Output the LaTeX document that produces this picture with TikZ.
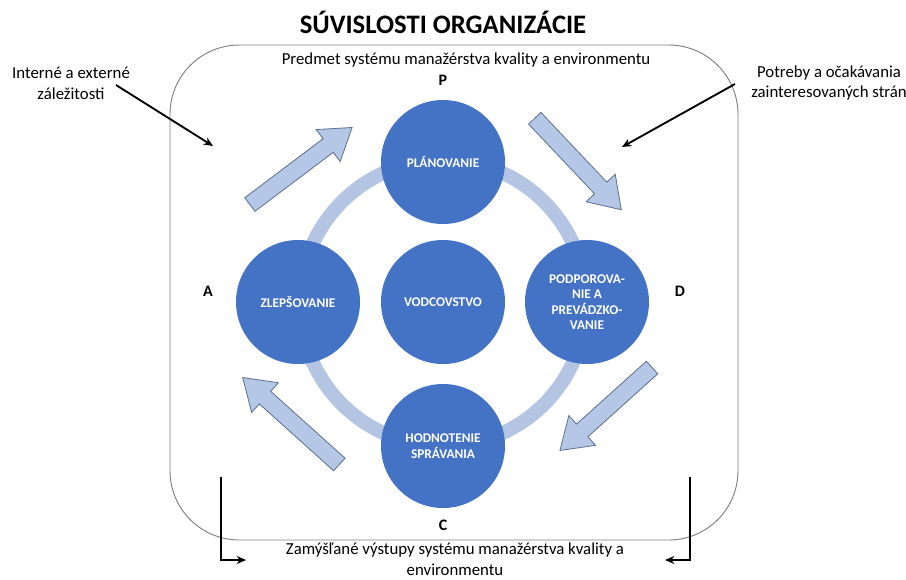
\documentclass[tikz,border=0pt]{standalone}
\usepackage{fontspec}
\setmainfont{Carlito}
\usetikzlibrary{arrows.meta}

\definecolor{phaseblue}{HTML}{4472C4}
\definecolor{ringblue}{HTML}{B4C5E4}
\definecolor{flowfill}{HTML}{B4C7E7}
\definecolor{flowedge}{HTML}{5E6E8C}
\definecolor{framegray}{HTML}{7F7F7F}

\tikzset{
  phase/.style={circle, fill=phaseblue, minimum size=93pt, inner sep=0pt,
    text=white, align=center, font=\fontsize{10}{11.5}\selectfont\bfseries},
  note/.style={align=center, font=\fontsize{12.6}{15.5}\selectfont},
  letter/.style={font=\fontsize{12}{13}\selectfont\bfseries},
  pointer/.style={-{Stealth[length=7pt,width=6pt]}, line width=1.4pt},
  flow/.style={fill=flowfill, draw=flowedge, line width=0.6pt, line join=miter}
}

% block arrow: centre, angle, half length
\newcommand{\flowarrow}[3]{
  \draw[flow, shift={(#1)}, rotate=#2]
    (-#3,-8.5) -- (#3-30,-8.5) -- (#3-30,-20) -- (#3,0) -- (#3-30,20)
    -- (#3-30,8.5) -- (-#3,8.5) -- cycle;
}

\begin{document}
\begin{tikzpicture}[x=0.75pt, y=-0.75pt]
  \useasboundingbox (0,0) rectangle (906,579);

  % frame and cycle
  \draw[framegray, line width=0.7pt, rounded corners=52pt] (170,45) rectangle (738,540);
  \draw[ringblue, line width=10.5pt] (443,303) circle (143);

  \node[phase] (plan)    at (443,162) {PLÁNOVANIE};
  \node[phase] (lead)    at (443,302) {VODCOVSTVO};
  \node[phase] (improve) at (298,302) {ZLEPŠOVANIE};
  \node[phase] (support) at (587,302) {PODPOROVA-\\NIE A\\PREVÁDZKO-\\VANIE};
  \node[phase] (check)   at (443,446) {HODNOTENIE\\SPRÁVANIA};

  \flowarrow{301,166}{37}{64}
  \flowarrow{578,164}{-46.6}{63}
  \flowarrow{606,409}{-138}{62}
  \flowarrow{291,421}{138}{65}

  % texts
  \node[font=\fontsize{20}{22}\selectfont\bfseries] (title) at (443,22) {SÚVISLOSTI ORGANIZÁCIE};
  \node[note] (scope) at (466,60) {Predmet systému manažérstva kvality a environmentu};
  \node[note] (issues) at (71,83) {Interné a externé\\záležitosti};
  \node[note] (needs) at (829,83) {Potreby a očakávania\\zainteresovaných strán};
  \node[note] (outputs) at (455,559) {Zamýšľané výstupy systému manažérstva kvality a\\environmentu};

  \node[letter] (p) at (443,80) {P};
  \node[letter] (d) at (680,291) {D};
  \node[letter] (c) at (443,525) {C};
  \node[letter] (a) at (208,291) {A};

  % inputs and outputs
  \coordinate (issuestail) at (116,85);
  \coordinate (issueshead) at (213,146);
  \coordinate (needstail) at (735,84);
  \coordinate (needshead) at (622,147);
  \coordinate (outlefttop) at (221,477);
  \coordinate (outlefthead) at (246,560);
  \coordinate (outrighttop) at (690,477);
  \coordinate (outrighthead) at (665,560);

  \draw[pointer] (issuestail) -- (issueshead);
  \draw[pointer] (needstail) -- (needshead);
  \draw[pointer] (outlefttop) |- (outlefthead);
  \draw[pointer] (outrighttop) |- (outrighthead);
\end{tikzpicture}
\end{document}
